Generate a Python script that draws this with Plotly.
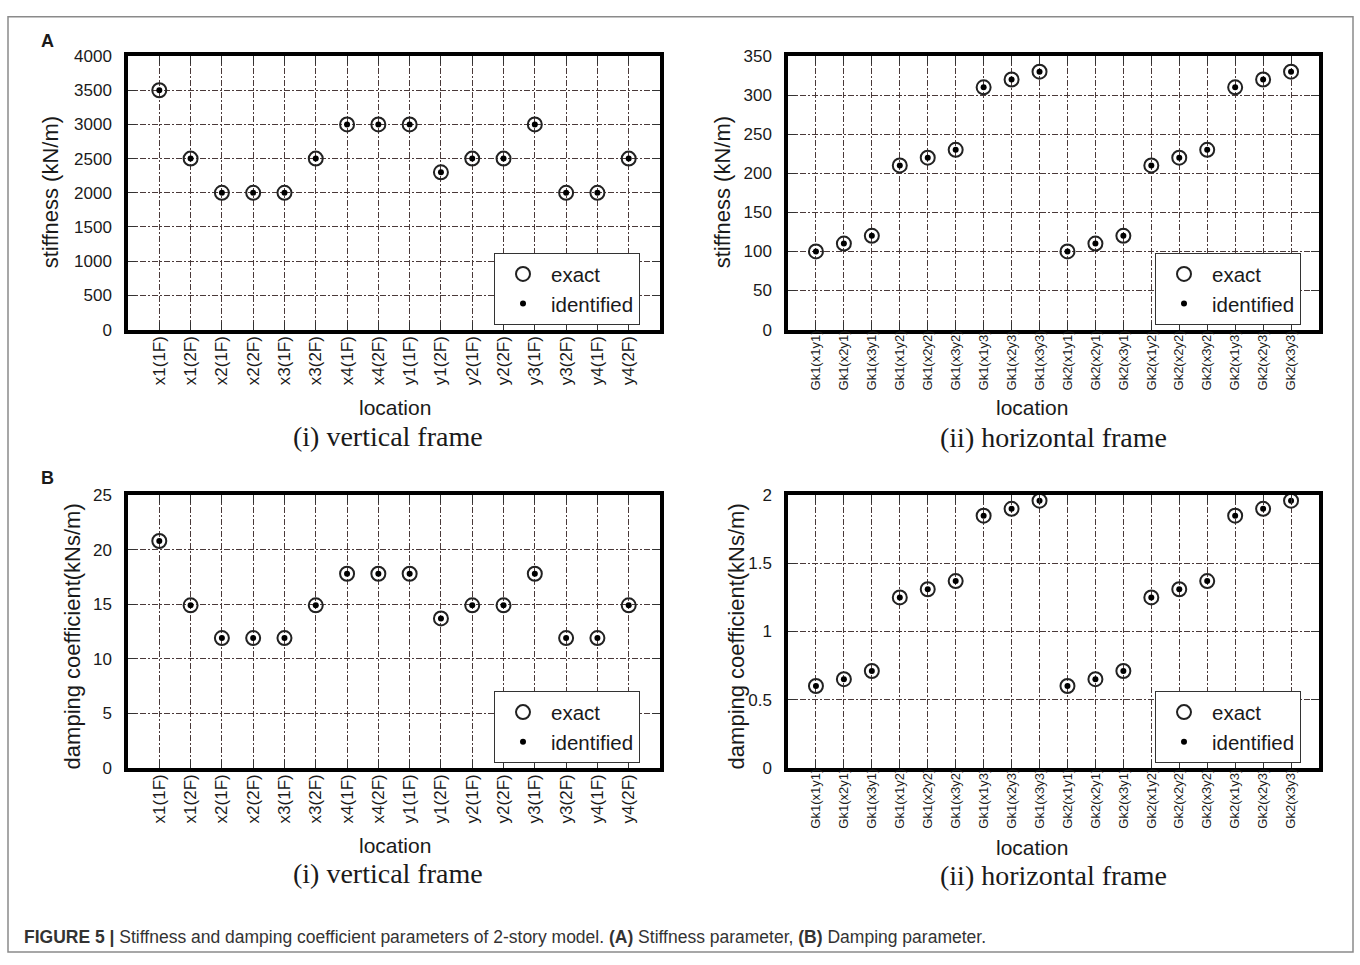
import plotly.graph_objects as go

W, H = 1360, 965

# ---------------- data ----------------
v_locs = ["x1(1F)", "x1(2F)", "x2(1F)", "x2(2F)", "x3(1F)", "x3(2F)", "x4(1F)", "x4(2F)",
          "y1(1F)", "y1(2F)", "y2(1F)", "y2(2F)", "y3(1F)", "y3(2F)", "y4(1F)", "y4(2F)"]
h_locs = ["Gk1(x1y1)", "Gk1(x2y1)", "Gk1(x3y1)", "Gk1(x1y2)", "Gk1(x2y2)", "Gk1(x3y2)",
          "Gk1(x1y3)", "Gk1(x2y3)", "Gk1(x3y3)", "Gk2(x1y1)", "Gk2(x2y1)", "Gk2(x3y1)",
          "Gk2(x1y2)", "Gk2(x2y2)", "Gk2(x3y2)", "Gk2(x1y3)", "Gk2(x2y3)", "Gk2(x3y3)"]

v_stiff_exact = [3500, 2500, 2000, 2000, 2000, 2500, 3000, 3000, 3000, 2300, 2500, 2500, 3000, 2000, 2000, 2500]
v_stiff_ident = [3500, 2500, 2000, 2000, 2000, 2500, 3000, 3000, 3000, 2300, 2500, 2500, 3000, 2000, 2000, 2500]
h_stiff_exact = [100, 110, 120, 210, 220, 230, 310, 320, 330, 100, 110, 120, 210, 220, 230, 310, 320, 330]
h_stiff_ident = [100, 110, 120, 210, 220, 230, 310, 320, 330, 100, 110, 120, 210, 220, 230, 310, 320, 330]
v_damp_exact = [20.8, 14.9, 11.9, 11.9, 11.9, 14.9, 17.8, 17.8, 17.8, 13.7, 14.9, 14.9, 17.8, 11.9, 11.9, 14.9]
v_damp_ident = [20.8, 14.9, 11.9, 11.9, 11.9, 14.9, 17.8, 17.8, 17.8, 13.7, 14.9, 14.9, 17.8, 11.9, 11.9, 14.9]
h_damp_exact = [0.60, 0.65, 0.71, 1.25, 1.31, 1.37, 1.85, 1.90, 1.96, 0.60, 0.65, 0.71, 1.25, 1.31, 1.37, 1.85, 1.90, 1.96]
h_damp_ident = [0.60, 0.65, 0.71, 1.25, 1.31, 1.37, 1.85, 1.90, 1.96, 0.60, 0.65, 0.71, 1.25, 1.31, 1.37, 1.85, 1.90, 1.96]

SANS = "Liberation Sans, Arial, Helvetica, sans-serif"
SERIF = "Liberation Serif, Times New Roman, serif"
TXT = "#1a1a1a"
GRID = "#4a3a3a"


def xd(a, b):
    return [a / W, b / W]


def yd(top, bot):
    return [1 - bot / H, 1 - top / H]


panels = [
    # (xaxis, yaxis, cats, exact, ident, xdom, ydom, yrange, dtick, xfont, xstandoff, legend)
    ("x", "y", v_locs, v_stiff_exact, v_stiff_ident, xd(128, 660), yd(48, 327), [0, 4000], 500, 17, -4, "legend"),
    ("x2", "y2", h_locs, h_stiff_exact, h_stiff_ident, xd(788, 1319), yd(48, 327), [0, 350], 50, 13, -8, "legend2"),
    ("x3", "y3", v_locs, v_damp_exact, v_damp_ident, xd(128, 660), yd(496, 774), [0, 25], 5, 17, -4, "legend3"),
    ("x4", "y4", h_locs, h_damp_exact, h_damp_ident, xd(788, 1319), yd(496, 774), [0, 2], 0.5, 13, -8, "legend4"),
]

fig = go.Figure()
layout = dict(
    width=W, height=H,
    margin=dict(l=0, r=0, t=0, b=0),
    paper_bgcolor="white", plot_bgcolor="white",
    font=dict(family=SANS, color=TXT),
)

legend_pos = {
    "legend": (494, 249),
    "legend2": (1155, 249),
    "legend3": (494, 696),
    "legend4": (1155, 696),
}

for xa, ya, cats, ex, idf, xdom, ydom, yr, dt, xfs, xso, lg in panels:
    fig.add_trace(go.Scatter(
        x=cats, y=ex, mode="markers", name="exact", xaxis=xa, yaxis=ya, legend=lg,
        cliponaxis=False,
        marker=dict(symbol="circle-open", size=14, color="#222222", line=dict(width=2, color="#222222")),
    ))
    fig.add_trace(go.Scatter(
        x=cats, y=idf, mode="markers", name="identified", xaxis=xa, yaxis=ya, legend=lg,
        cliponaxis=False,
        marker=dict(symbol="circle", size=6, color="#000000"),
    ))
    xkey = "xaxis" + xa[1:]
    ykey = "yaxis" + ya[1:]
    layout[xkey] = dict(
        domain=xdom, anchor=ya, type="category", categoryorder="array", categoryarray=cats,
        range=[-1, len(cats)], tickangle=-90,
        tickfont=dict(size=xfs, family=SANS, color=TXT),
        showgrid=True, gridcolor=GRID, gridwidth=1, griddash="6px,2px,2px,2px",
        showline=True, linecolor="black", linewidth=3.5, mirror="ticks",
        ticks="inside", ticklen=8, tickcolor="#333333", tickwidth=1,
        zeroline=False, ticklabelstandoff=xso,
    )
    layout[ykey] = dict(
        domain=ydom, anchor=xa, range=yr, dtick=dt, tick0=0,
        tickfont=dict(size=17, family=SANS, color=TXT),
        showgrid=True, gridcolor=GRID, gridwidth=1, griddash="6px,2px,2px,2px",
        showline=True, linecolor="black", linewidth=3.5, mirror="ticks",
        ticks="inside", ticklen=8, tickcolor="#333333", tickwidth=1,
        zeroline=False, ticklabelstandoff=9,
    )
    lx, ly = legend_pos[lg]
    layout[lg] = dict(
        x=lx / W, y=1 - ly / H, xanchor="left", yanchor="top", xref="paper", yref="paper",
        bgcolor="white", bordercolor="#333333", borderwidth=1,
        font=dict(size=20.5, family=SANS, color=TXT), itemwidth=46, tracegroupgap=0,
    )

fig.update_layout(**layout)

annotations = []


def ann(text, x, y, size, family=SANS, angle=0, xanchor="center", yanchor="middle", color=TXT):
    annotations.append(dict(
        text=text, x=x / W, y=1 - y / H, xref="paper", yref="paper",
        showarrow=False, textangle=angle, xanchor=xanchor, yanchor=yanchor,
        font=dict(size=size, family=family, color=color),
    ))


# panel letters
ann("<b>A</b>", 47, 33, 18)
ann("<b>B</b>", 47, 478, 18)
# y titles
ann("stiffness (kN/m)", 50, 187, 22, angle=-90)
ann("stiffness (kN/m)", 722, 187, 22, angle=-90)
ann("damping coefficient(kNs/m)", 72, 640, 22, angle=-90)
ann("damping coefficient(kNs/m)", 736, 640, 22, angle=-90)
# x titles
ann("location", 395, 406, 21)
ann("location", 1032, 407, 21)
ann("location", 395, 853, 21)
ann("location", 1032, 855, 21)
# subtitles
ann("(i) vertical frame", 388, 436, 28, family=SERIF)
ann("(ii) horizontal frame", 1053, 437, 28, family=SERIF)
ann("(i) vertical frame", 388, 882, 28, family=SERIF)
ann("(ii) horizontal frame", 1053, 884, 28, family=SERIF)
# caption
ann("<b>FIGURE 5 |</b> Stiffness and damping coefficient parameters of 2-story model. "
    "<b>(A)</b> Stiffness parameter, <b>(B)</b> Damping parameter.",
    22, 947, 17.5, xanchor="left", color="#333333")

fig.update_layout(annotations=annotations)

fig.add_shape(type="rect", xref="paper", yref="paper",
              x0=8 / W, x1=1353 / W, y0=1 - 962 / H, y1=1 - 8 / H,
              line=dict(color="#8a8a8a", width=1.5), fillcolor="rgba(0,0,0,0)", layer="below")

fig.write_html("out.html", post_script="document.body.style.margin='0';")
